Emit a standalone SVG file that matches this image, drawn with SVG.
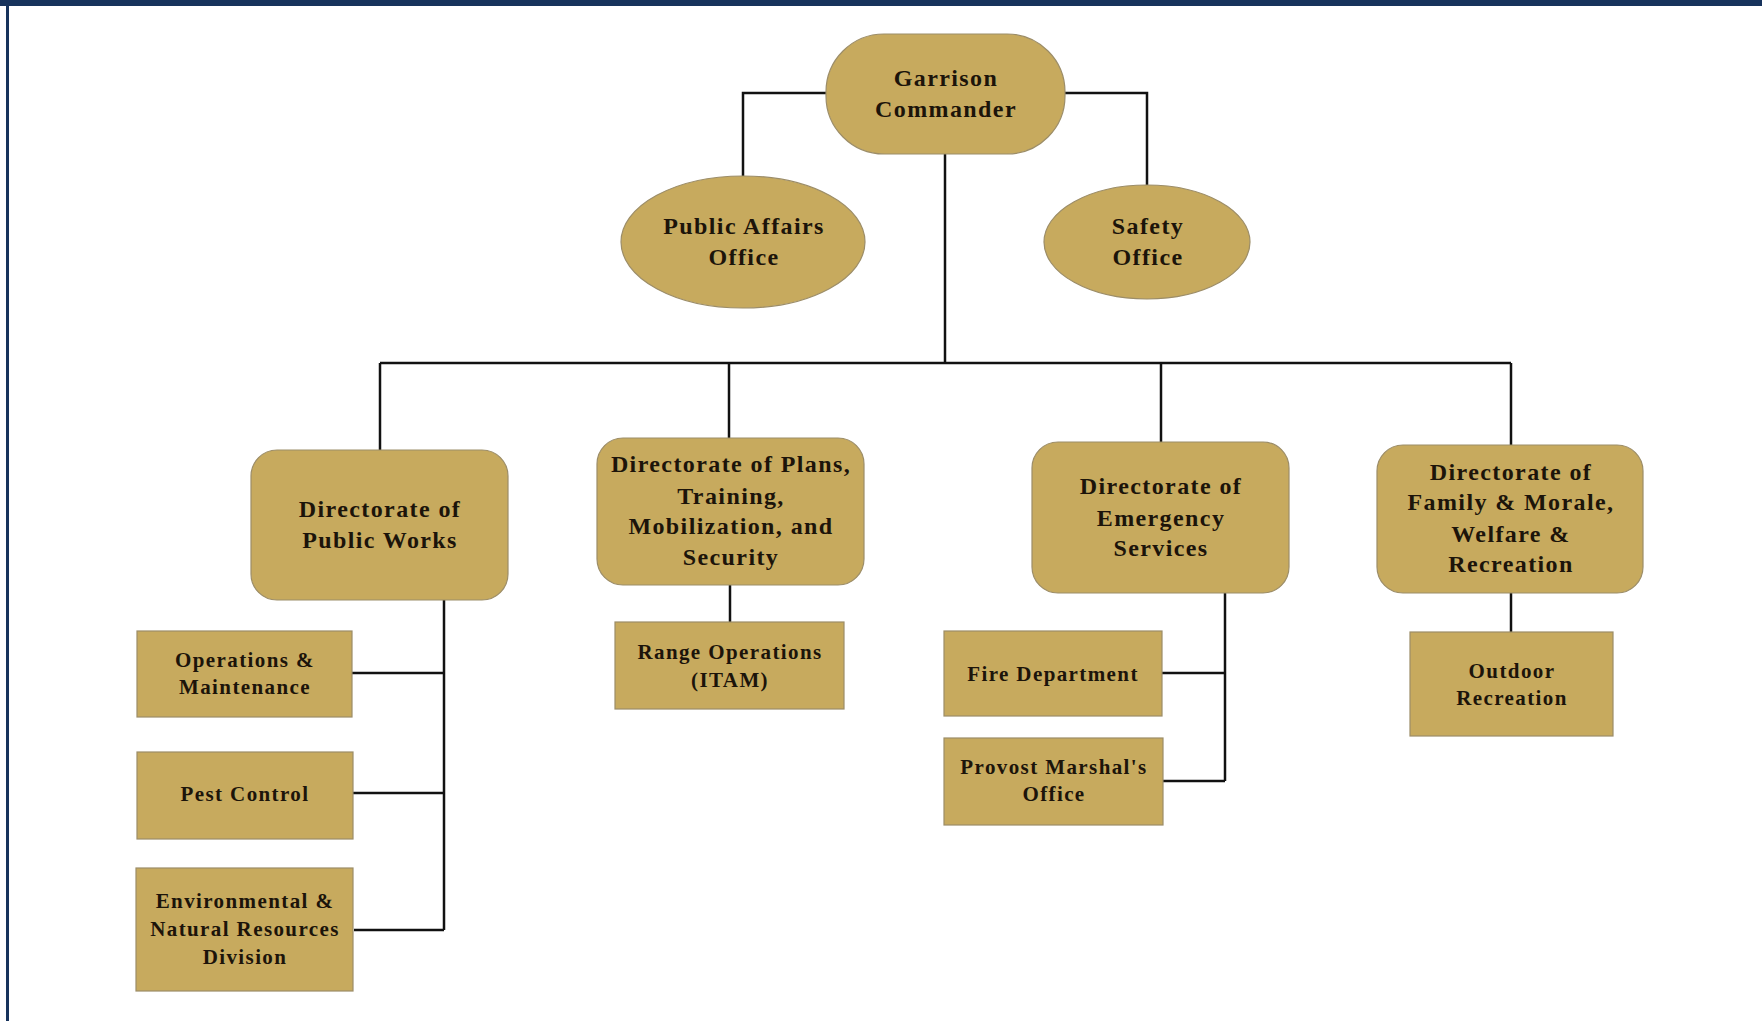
<svg xmlns="http://www.w3.org/2000/svg" width="1762" height="1021" viewBox="0 0 1762 1021">
<style>
.n{fill:#C7AA5E;stroke:#9c8d68;stroke-width:1.2}
.t{font-family:"Liberation Serif","Times New Roman",serif;font-weight:bold;fill:#1c140a;text-anchor:middle;letter-spacing:1.4px}
.b{font-size:24px}
.s{font-size:21px}
.c{fill:none;stroke:#111;stroke-width:2.5}
</style>
<rect x="0" y="0" width="1762" height="1021" fill="#fff"/>
<rect x="0" y="0" width="1762" height="6" fill="#17335c"/>
<rect x="6" y="0" width="3" height="1021" fill="#17335c"/>
<g id="connectors">
<path class="c" d="M826 93H743V176"/>
<path class="c" d="M1065 93H1147V185"/>
<path class="c" d="M945 154V363"/>
<path class="c" d="M380 363H1511"/>
<path class="c" d="M380 363V451"/>
<path class="c" d="M729 363V438"/>
<path class="c" d="M1161 363V442"/>
<path class="c" d="M1511 363V445"/>
<path class="c" d="M444 600V930"/>
<path class="c" d="M352 673H444"/>
<path class="c" d="M353 793H444"/>
<path class="c" d="M354 930H444"/>
<path class="c" d="M730 585V622"/>
<path class="c" d="M1225 593V781"/>
<path class="c" d="M1162 673H1225"/>
<path class="c" d="M1163 781H1225"/>
<path class="c" d="M1511 593V633"/>
</g>
<g id="garrison">
<rect class="n" x="826" y="34" width="239" height="120" rx="58"/>
<text class="t b" x="946" y="86">Garrison</text>
<text class="t b" x="946" y="117">Commander</text>
</g>
<g id="public-affairs">
<ellipse class="n" cx="743" cy="242" rx="122" ry="66"/>
<text class="t b" x="744" y="234">Public Affairs</text>
<text class="t b" x="744" y="265">Office</text>
</g>
<g id="safety">
<ellipse class="n" cx="1147" cy="242" rx="103" ry="57"/>
<text class="t b" x="1148" y="234">Safety</text>
<text class="t b" x="1148" y="265">Office</text>
</g>
<g id="dpw">
<rect class="n" x="251" y="450" width="257" height="150" rx="26"/>
<text class="t b" x="380" y="517">Directorate of</text>
<text class="t b" x="380" y="548">Public Works</text>
</g>
<g id="dptms">
<rect class="n" x="597" y="438" width="267" height="147" rx="26"/>
<text class="t b" x="731" y="472">Directorate of Plans,</text>
<text class="t b" x="731" y="504">Training,</text>
<text class="t b" x="731" y="534">Mobilization, and</text>
<text class="t b" x="731" y="565">Security</text>
</g>
<g id="des">
<rect class="n" x="1032" y="442" width="257" height="151" rx="26"/>
<text class="t b" x="1161" y="494">Directorate of</text>
<text class="t b" x="1161" y="526">Emergency</text>
<text class="t b" x="1161" y="556">Services</text>
</g>
<g id="dfmwr">
<rect class="n" x="1377" y="445" width="266" height="148" rx="26"/>
<text class="t b" x="1511" y="480">Directorate of</text>
<text class="t b" x="1511" y="510">Family &amp; Morale,</text>
<text class="t b" x="1511" y="542">Welfare &amp;</text>
<text class="t b" x="1511" y="572">Recreation</text>
</g>
<g id="ops-maint">
<rect class="n" x="137" y="631" width="215" height="86"/>
<text class="t s" x="245" y="667">Operations &amp;</text>
<text class="t s" x="245" y="694">Maintenance</text>
</g>
<g id="pest-control">
<rect class="n" x="137" y="752" width="216" height="87"/>
<text class="t s" x="245" y="801">Pest Control</text>
</g>
<g id="env-nat-res">
<rect class="n" x="136" y="868" width="217" height="123"/>
<text class="t s" x="245" y="908">Environmental &amp;</text>
<text class="t s" x="245" y="936">Natural Resources</text>
<text class="t s" x="245" y="964">Division</text>
</g>
<g id="range-ops">
<rect class="n" x="615" y="622" width="229" height="87"/>
<text class="t s" x="730" y="659">Range Operations</text>
<text class="t s" x="730" y="687">(ITAM)</text>
</g>
<g id="fire-dept">
<rect class="n" x="944" y="631" width="218" height="85"/>
<text class="t s" x="1053" y="681">Fire Department</text>
</g>
<g id="provost">
<rect class="n" x="944" y="738" width="219" height="87"/>
<text class="t s" x="1054" y="774">Provost Marshal's</text>
<text class="t s" x="1054" y="801">Office</text>
</g>
<g id="outdoor-rec">
<rect class="n" x="1410" y="632" width="203" height="104"/>
<text class="t s" x="1512" y="678">Outdoor</text>
<text class="t s" x="1512" y="705">Recreation</text>
</g>
</svg>
